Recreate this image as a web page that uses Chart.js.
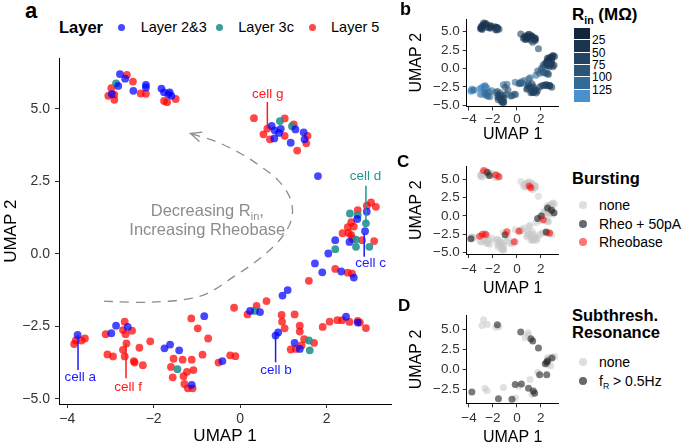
<!DOCTYPE html>
<html lang="en">
<head>
<meta charset="UTF-8">
<title>UMAP of cortical neurons</title>
<script src="https://cdn.jsdelivr.net/npm/chart.js"></script>
<style>
  * { margin: 0; padding: 0; box-sizing: border-box; }
  body {
    width: 685px; height: 444px; background: #fff;
    position: relative; overflow: hidden;
    font-family: "Liberation Sans", Arial, Helvetica, sans-serif; color: #000;
  }
  canvas { position: absolute; }
  .lbl { position: absolute; white-space: nowrap; line-height: 1; }
  .lbl sub { font-size: 0.62em; vertical-align: -0.35em; line-height: 0; }
  .dot { position: absolute; border-radius: 50%; }
  .box { position: absolute; }
</style>
</head>
<body>
<canvas id="panelA"></canvas>
<canvas id="panelB"></canvas>
<canvas id="panelC"></canvas>
<canvas id="panelD"></canvas>

<script>
const FONT = '"Liberation Sans", Arial, Helvetica, sans-serif';

// axis ticks shared by every panel
const xTicks = [-4, -2, 0, 2];
const xTickText = ['−4', '−2', '0', '2'];
const yTicks = [-5, -2.5, 0, 2.5, 5];
const yTickText = ['−5.0', '−2.5', '0.0', '2.5', '5.0'];

// cells: [UMAP 1, UMAP 2, Rin (MOhm)]
const layer23 = [
  [-2.78, 6.20, 35], [-2.66, 6.04, 30], [-2.82, 5.79, 40], [-2.47, 5.62, 38], [-2.18, 5.83, 32],
  [-2.18, 5.74, 36], [-2.97, 5.51, 42], [-1.82, 5.70, 45], [-1.76, 5.57, 40], [-1.63, 5.57, 48],
  [-1.66, 5.50, 44], [-1.59, 5.45, 50],
  [0.73, 4.41, 38], [0.80, 4.26, 42], [0.94, 4.31, 35], [0.90, 4.17, 40], [0.79, 3.98, 45],
  [1.28, 4.29, 37], [1.47, 4.19, 44], [1.49, 3.95, 48], [1.17, 3.83, 52],
  [1.80, 2.68, 72], [2.93, 1.45, 35], [2.71, 1.20, 40], [2.89, 0.78, 45], [2.53, 0.41, 62],
  [2.20, 0.47, 70], [2.04, 0.01, 88], [1.73, -0.33, 95], [1.90, -0.64, 98], [2.34, -0.61, 85],
  [2.63, -0.82, 80], [1.10, -1.25, 105], [0.98, -1.44, 110],
  [-3.76, -2.80, 128], [-2.98, -2.74, 120], [-2.87, -2.48, 132], [-2.60, -2.52, 118], [-1.75, -3.26, 95],
  [-1.62, -3.13, 90], [-1.41, -3.33, 85], [-0.83, -2.15, 105], [-1.12, -4.52, 62],
  [0.23, -1.97, 100], [0.46, -2.01, 96], [0.88, -2.71, 70], [0.82, -2.82, 68], [1.26, -3.07, 60],
  [1.38, -3.28, 58], [2.45, -2.17, 55], [2.72, -2.37, 52], [-0.41, -3.70, 80]
];
const layer3c = [
  [-2.87, 5.88, 38], [0.92, 4.58, 45], [1.20, 4.40, 40], [2.54, 1.39, 42], [2.72, 1.34, 38],
  [2.91, 1.05, 44], [2.68, 0.49, 55], [2.68, 0.24, 60], [2.99, 0.24, 58], [2.20, 0.16, 75],
  [-1.45, -3.98, 65], [0.34, -1.97, 98], [1.59, -2.99, 62], [1.61, -3.33, 60]
];
const layer5 = [
  [-2.62, 6.17, 33], [-2.48, 5.94, 36], [-2.98, 5.71, 40], [-2.30, 5.53, 34], [-2.18, 5.52, 38],
  [-3.05, 5.45, 45], [-2.91, 5.49, 41], [-2.91, 5.31, 46], [-1.49, 5.34, 52], [-1.76, 5.27, 47],
  [-1.69, 5.23, 50],
  [0.32, 4.68, 58], [1.03, 4.67, 40], [0.63, 4.32, 42], [1.24, 4.46, 36], [0.54, 4.12, 48],
  [0.69, 3.95, 46], [1.03, 4.07, 39], [1.56, 4.07, 41], [1.53, 3.81, 47], [1.32, 3.56, 55],
  [2.72, 1.51, 34], [2.93, 1.66, 30], [3.03, 1.77, 28], [3.14, 1.62, 32], [2.57, 1.09, 40],
  [2.63, 0.94, 42], [2.49, 0.92, 45], [2.37, 0.71, 50], [2.51, 0.72, 48], [2.57, 0.64, 52],
  [2.60, 0.52, 55], [2.82, 0.47, 50], [3.10, 0.44, 46], [2.20, -0.52, 90], [2.49, -0.65, 82],
  [2.59, -0.68, 78], [1.59, -0.93, 100], [0.61, -1.63, 112],
  [-3.84, -3.11, 135], [-3.80, -2.99, 125], [-3.67, -2.99, 130], [-3.59, -2.92, 122], [-3.11, -2.77, 128],
  [-2.67, -2.34, 115], [-2.71, -2.63, 125], [-2.65, -2.77, 119], [-2.50, -2.65, 127], [-2.63, -3.09, 131],
  [-2.71, -3.31, 124], [-2.33, -3.24, 110], [-2.08, -3.02, 105], [-3.07, -3.47, 133], [-2.94, -3.54, 126],
  [-2.67, -3.54, 121], [-2.46, -3.70, 114], [-2.44, -3.75, 117], [-2.25, -3.84, 108], [-1.13, -2.23, 102],
  [-0.98, -2.57, 98], [-0.74, -2.92, 92], [-0.87, -3.48, 78], [-1.54, -3.62, 72], [-1.33, -3.65, 68],
  [-1.12, -3.65, 75], [-1.60, -3.90, 66], [-1.23, -4.07, 60], [-1.08, -4.01, 64], [-1.31, -4.22, 58],
  [-1.56, -4.26, 70], [-1.29, -4.49, 55], [-1.21, -4.64, 57], [-1.10, -4.64, 61],
  [-0.14, -1.86, 104], [0.17, -2.09, 99], [0.38, -1.80, 108], [0.96, -2.11, 75], [1.26, -2.09, 72],
  [0.97, -2.34, 68], [1.03, -2.57, 63], [1.38, -2.48, 65], [1.38, -2.68, 60], [1.48, -2.94, 57],
  [1.71, -3.07, 62], [1.42, -3.16, 59], [1.17, -3.30, 64], [1.29, -3.28, 61], [1.91, -2.52, 58],
  [2.07, -2.34, 54], [2.25, -2.29, 50], [2.36, -2.29, 56], [2.53, -2.35, 52], [2.72, -2.31, 49],
  [2.77, -2.37, 53], [2.91, -2.56, 57], [-0.23, -3.50, 82], [-0.11, -3.53, 85], [-0.50, -3.75, 79]
];

// bursting at rheobase / rheobase + 50 pA
const burstRheo50 = [[-2.48, 5.94], [-2.30, 5.53], [2.57, 1.09], [2.89, 0.78], [3.10, 0.44],
  [1.73, -0.33], [2.04, 0.01], [2.45, -2.17], [-3.84, -3.11], [-0.98, -2.57]];
const burstRheobase = [[-2.78, 6.20], [-1.76, 5.57], [-1.49, 5.34], [1.03, 4.07], [1.17, 3.83],
  [2.20, -0.52], [2.72, -2.31], [-2.87, -2.48], [-2.60, -2.52], [-3.11, -2.77], [-0.83, -2.15],
  [0.17, -2.09], [-0.23, -3.50]];

// subthreshold resonance (only cells that were tested)
const resHigh = [[-1.63, 5.57], [0.32, 4.68], [1.17, 3.83], [1.32, 3.56], [1.80, 2.68], [2.37, 0.71],
  [2.49, 0.92], [2.57, 1.09], [2.93, 1.45], [1.90, -0.64], [2.49, -0.65], [-0.14, -1.86], [0.38, -1.80],
  [0.97, -2.34], [1.38, -2.68], [1.48, -2.94], [-3.76, -2.80], [-1.54, -3.62], [-0.41, -3.70]];
const resNone = [[-2.78, 6.20], [-2.91, 5.49], [-2.47, 5.62], [-1.76, 5.27], [-1.49, 5.34], [0.92, 4.58],
  [0.94, 4.31], [0.69, 3.95], [2.54, 1.39], [2.72, 1.51], [3.14, 1.62], [2.57, 0.64], [2.82, 0.47],
  [1.73, -0.33], [1.10, -1.25], [0.17, -2.09], [-1.13, -2.23], [-2.67, -2.34], [-2.50, -2.65],
  [1.26, -3.07], [-0.11, -3.53]];

const rinBreaks = [25, 50, 75, 100, 125];
const rinColors = ['#14263b', '#1b3450', '#224363', '#295577', '#326b95', '#4a90cf'];

const layerNames = ['Layer 2&3', 'Layer 3c', 'Layer 5'];
const layerColors = ['rgba(0,0,255,0.72)', 'rgba(32,145,140,0.88)', 'rgba(255,0,0,0.72)'];

// annotation path for the dashed arrow, in UMAP units
const arcPath = [[-3.15, -1.63], [-2.07, -1.67], [-0.92, -1.46], [-0.11, -0.75], [0.51, -0.10],
  [0.97, 0.58], [1.20, 1.26], [1.15, 1.94], [0.87, 2.55], [0.46, 3.03], [0.00, 3.47],
  [-0.57, 3.88], [-1.15, 4.15]];

const cellNotes = [
  { text: 'cell g', color: '#ff1a1a', at: [0.64, 5.50], from: [0.63, 5.24], to: [0.63, 4.32] },
  { text: 'cell d', color: '#22958f', at: [2.90, 2.67], from: [2.91, 2.35], to: [2.91, 1.05] },
  { text: 'cell c', color: '#1a1aff', at: [3.02, -0.34], from: [2.87, 0.70], to: [2.87, -0.10] },
  { text: 'cell a', color: '#1a1aff', at: [-3.70, -4.25], from: [-3.75, -2.80], to: [-3.75, -4.01] },
  { text: 'cell f', color: '#ff1a1a', at: [-2.59, -4.59], from: [-2.64, -3.09], to: [-2.64, -4.29] },
  { text: 'cell b', color: '#1a1aff', at: [0.83, -4.01], from: [0.82, -2.82], to: [0.82, -3.74] }
];

const toXY = p => ({ x: p[0], y: p[1] });
const allCells = layer23.concat(layer3c, layer5);
const same = (a, b) => a[0] === b[0] && a[1] === b[1];
const rinColor = (v, a) => {
  let i = 0;
  while (i < rinBreaks.length && v >= rinBreaks[i]) i++;
  const h = rinColors[i];
  const r = parseInt(h.slice(1, 3), 16), g = parseInt(h.slice(3, 5), 16), b = parseInt(h.slice(5, 7), 16);
  return `rgba(${r},${g},${b},${a})`;
};

function makeScatter(id, box, datasets, g, plugins) {
  const cv = document.getElementById(id);
  cv.width = box.w; cv.height = box.h;
  cv.style.left = box.left + 'px'; cv.style.top = box.top + 'px';
  const tickOpts = (vals, text, pad) => ({
    autoSkip: false, maxRotation: 0, padding: pad, color: '#333',
    font: { family: FONT, size: g.tick },
    callback: v => text[vals.indexOf(v)]
  });
  const axisGrid = { drawOnChartArea: false, drawTicks: true, tickLength: 4, color: '#333', lineWidth: 1 };
  const yShown = yTicks.filter(v => v >= g.yr[0] && v <= g.yr[1]);
  return new Chart(cv, {
    type: 'scatter',
    data: { datasets },
    options: {
      responsive: false, animation: false, events: [],
      layout: { padding: g.pad },
      plugins: { legend: { display: false }, tooltip: { enabled: false } },
      scales: {
        x: {
          type: 'linear', min: g.xr[0], max: g.xr[1],
          afterBuildTicks: s => { s.ticks = xTicks.map(v => ({ value: v })); },
          afterFit: s => { s.height = g.xh; },
          ticks: tickOpts(xTicks, xTickText, g.xtp),
          grid: axisGrid, border: { color: '#000', width: 1 },
          title: { display: true, text: 'UMAP 1', color: '#000',
            font: { family: FONT, size: g.title, lineHeight: 1.1 }, padding: { top: 0, bottom: g.xtb } }
        },
        y: {
          type: 'linear', min: g.yr[0], max: g.yr[1],
          afterBuildTicks: s => { s.ticks = yShown.map(v => ({ value: v })); },
          afterFit: s => { s.width = g.yw; },
          ticks: tickOpts(yTicks, yTickText, g.ytp),
          grid: axisGrid, border: { color: '#000', width: 1 },
          title: { display: true, text: 'UMAP 2', color: '#000',
            font: { family: FONT, size: g.title, lineHeight: 1.1 }, padding: { top: g.ytt, bottom: 0 } }
        }
      }
    },
    plugins: plugins || []
  });
}

const dots = (pts, color, r) => ({
  data: pts.map(toXY), pointRadius: r, pointBackgroundColor: color,
  pointBorderWidth: 0, pointBorderColor: 'rgba(0,0,0,0)', showLine: false
});

// arrow, its caption and the cell call-outs on panel a
const annotate = {
  id: 'annotate',
  afterDatasetsDraw(chart) {
    const { ctx, scales: { x, y } } = chart;
    const P = p => [x.getPixelForValue(p[0]), y.getPixelForValue(p[1])];
    ctx.save();
    const pts = arcPath.map(P);
    ctx.strokeStyle = '#8c8c8c'; ctx.lineWidth = 1.3; ctx.setLineDash([9, 7]);
    ctx.beginPath();
    ctx.moveTo(pts[0][0], pts[0][1]);
    for (let i = 0; i < pts.length - 1; i++) {
      const p0 = pts[i - 1] || pts[i], p1 = pts[i], p2 = pts[i + 1], p3 = pts[i + 2] || pts[i + 1];
      ctx.bezierCurveTo(p1[0] + (p2[0] - p0[0]) / 6, p1[1] + (p2[1] - p0[1]) / 6,
        p2[0] - (p3[0] - p1[0]) / 6, p2[1] - (p3[1] - p1[1]) / 6, p2[0], p2[1]);
    }
    ctx.stroke();
    ctx.setLineDash([]);
    const tip = pts[pts.length - 1], prev = pts[pts.length - 2];
    const back = Math.atan2(prev[1] - tip[1], prev[0] - tip[0]);
    ctx.beginPath();
    ctx.moveTo(tip[0] + 12 * Math.cos(back - 0.42), tip[1] + 12 * Math.sin(back - 0.42));
    ctx.lineTo(tip[0], tip[1]);
    ctx.lineTo(tip[0] + 12 * Math.cos(back + 0.42), tip[1] + 12 * Math.sin(back + 0.42));
    ctx.stroke();

    // caption
    ctx.fillStyle = '#8c8c8c'; ctx.textBaseline = 'alphabetic';
    const big = `16.5px ${FONT}`, small = `11px ${FONT}`;
    const c1 = P([-0.76, 1.50]), c2 = P([-0.76, 0.85]);
    ctx.font = big; const w1 = ctx.measureText('Decreasing R').width, w3 = ctx.measureText(',').width;
    ctx.font = small; const w2 = ctx.measureText('in').width;
    let sx = c1[0] - (w1 + w2 + w3) / 2;
    const base1 = c1[1] + 6;
    ctx.font = big; ctx.textAlign = 'left'; ctx.fillText('Decreasing R', sx, base1);
    ctx.font = small; ctx.fillText('in', sx + w1, base1 + 4);
    ctx.font = big; ctx.fillText(',', sx + w1 + w2, base1);
    ctx.textAlign = 'center'; ctx.fillText('Increasing Rheobase', c2[0], c2[1] + 6);

    // cell call-outs
    ctx.lineWidth = 1.5; ctx.font = `13.5px ${FONT}`; ctx.textBaseline = 'middle';
    cellNotes.forEach(n => {
      const a = P(n.from), b = P(n.to), t = P(n.at);
      ctx.strokeStyle = n.color; ctx.fillStyle = n.color;
      ctx.beginPath(); ctx.moveTo(a[0], a[1]); ctx.lineTo(b[0], b[1]); ctx.stroke();
      ctx.fillText(n.text, t[0], t[1]);
    });
    ctx.restore();
  }
};

// panel a
makeScatter('panelA', { left: 0, top: 45, w: 395, h: 401 }, [
  dots(layer23, layerColors[0], 3.9),
  dots(layer3c, layerColors[1], 3.9),
  dots(layer5, layerColors[2], 3.9)
], { pad: { top: 8, right: 3, bottom: 0, left: 0 }, yw: 59, xh: 42, tick: 14, title: 17,
  xtp: 3, ytp: 5, xtb: 0, ytt: 1.6, xr: [-4.19, 3.49], yr: [-5.18, 6.74] }, [annotate]);

const small = (top, xh, xtb, xtp) => ({ pad: { top, right: 6.3, bottom: 0, left: 0 }, yw: 66.7, xh,
  tick: 13.5, title: 16, xtp, ytp: 3, xtb, ytt: 7.7, xr: [-4.19, 3.49], yr: [-5.18, 6.74] });

// panel b: input resistance
makeScatter('panelB', { left: 400, top: 0, w: 165, h: 148 }, [{
  data: allCells.map(toXY), pointRadius: 3.5, pointBorderWidth: 0,
  pointBackgroundColor: allCells.map(p => rinColor(p[2], 0.6))
}], small(19, 41.5, 5, 1));

// panel C: bursting
const burstNone = allCells.filter(p => !burstRheo50.some(q => same(p, q)) && !burstRheobase.some(q => same(p, q)));
makeScatter('panelC', { left: 400, top: 150, w: 165, h: 147 }, [
  dots(burstRheobase, 'rgba(255,0,0,0.55)', 3.5),
  dots(burstRheo50, 'rgba(40,40,40,0.65)', 3.5),
  dots(burstNone, 'rgba(200,200,200,0.5)', 3.5)
], small(16.5, 43, 0, 3));

// panel D: resonance
const gD = small(18.7, 43.7, 0.2, 3);
gD.yr = [-4.2, 6.7];
makeScatter('panelD', { left: 400, top: 297, w: 165, h: 150 }, [
  dots(resHigh, 'rgba(40,40,40,0.62)', 3.5),
  dots(resNone, 'rgba(200,200,200,0.55)', 3.5)
], gD);

// legends and panel letters
function text(html, left, cy, size, bold, color) {
  const d = document.createElement('div');
  d.className = 'lbl';
  d.innerHTML = html;
  d.style.left = left + 'px';
  d.style.top = (cy - size * 0.5) + 'px';
  d.style.fontSize = size + 'px';
  if (bold) d.style.fontWeight = 'bold';
  if (color) d.style.color = color;
  document.body.appendChild(d);
}
function dot(cx, cy, dia, color) {
  const d = document.createElement('span');
  d.className = 'dot';
  Object.assign(d.style, { left: (cx - dia / 2) + 'px', top: (cy - dia / 2) + 'px',
    width: dia + 'px', height: dia + 'px', background: color });
  document.body.appendChild(d);
}

text('a', 25, 10.5, 22, true);
text('b', 400, 9, 18, true);
text('C', 397, 161, 17, true);
text('D', 398, 305, 17, true);

text('Layer', 59, 27.5, 16.5, true);
[121.7, 219.3, 312.3].forEach((cx, i) => {
  dot(cx, 27.5, 7.5, layerColors[i]);
  text(layerNames[i], [140.7, 238.3, 331][i], 27.5, 14.5);
});

text('R<sub>in</sub> (MΩ)', 572, 14, 17, true);
rinColors.forEach((c, i) => {
  const b = document.createElement('div');
  b.className = 'box';
  Object.assign(b.style, { left: '574px', top: (28 + i * 12.33) + 'px', width: '16px',
    height: '12.33px', background: c, borderBottom: i < 5 ? '1px solid #fff' : 'none' });
  document.body.appendChild(b);
});
rinBreaks.forEach((v, i) => text(String(v), 592, 28 + (i + 1) * 12.33, 12));

text('Bursting', 572, 178, 16.5, true);
[['none', 'rgba(200,200,200,0.6)'], ['Rheo + 50pA', 'rgba(40,40,40,0.7)'], ['Rheobase', 'rgba(255,0,0,0.55)']]
  .forEach((it, i) => {
    const cy = [205, 224, 242.3][i];
    dot(582.7, cy, 8, it[1]);
    text(it[0], 599, cy, 14);
  });

text('Subthresh.', 572, 315, 16.5, true);
text('Resonance', 572, 332.3, 16.5, true);
[['none', 'rgba(200,200,200,0.6)'], ['f<sub>R</sub> &gt; 0.5Hz', 'rgba(40,40,40,0.7)']].forEach((it, i) => {
  const cy = [361.7, 380.7][i];
  dot(583.3, cy, 8, it[1]);
  text(it[0], 599, cy, 14);
});
</script>
</body>
</html>
